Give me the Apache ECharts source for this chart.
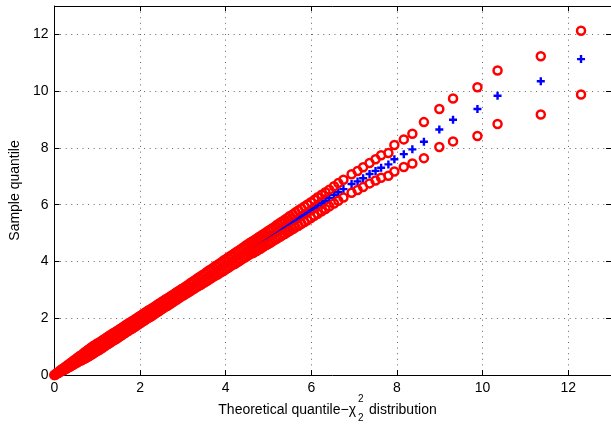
<!DOCTYPE html>
<html>
<head>
<meta charset="utf-8">
<script src="https://cdn.jsdelivr.net/npm/echarts@6/dist/echarts.min.js"></script>
<style>
html,body{margin:0;padding:0;background:#fff;}
#chart{width:611px;height:426px;}
</style>
</head>
<body>
<div id="chart"></div>
<script>
// Theoretical chi-square(2) quantiles (x)
const theoretical = [
0.00,0.03,0.07,0.10,0.14,0.17,0.21,0.24,0.28,0.31,0.35,0.38,0.42,0.45,0.49,0.53,0.56,0.60,0.63,0.67,
0.71,0.74,0.78,0.81,0.85,0.89,0.92,0.96,1.00,1.03,1.07,1.11,1.14,1.18,1.22,1.26,1.29,1.33,1.37,1.41,
1.45,1.49,
1.53,1.57,1.61,1.65,1.69,1.73,1.77,1.81,1.85,1.90,1.94,1.98,2.02,2.07,2.11,2.15,2.20,2.24,2.28,2.33,
2.37,2.42,2.46,2.51,2.55,2.60,2.64,2.69,2.73,2.78,2.83,2.87,2.92,2.97,
3.02,3.07,3.11,3.16,3.21,3.26,3.31,3.36,3.41,3.46,3.51,3.56,3.61,3.66,3.71,3.76,3.81,3.86,3.91,3.96,
4.01,4.06,4.11,4.16,4.21,4.26,4.31,4.36,4.41,4.46,4.51,4.56,4.60,
4.64,4.68,4.72,4.77,4.81,4.86,4.90,4.95,5.00,5.05,5.10,5.16,5.21,5.27,5.32,5.38,5.44,5.50,5.57,5.63,
5.70,5.77,5.84,5.91,5.99,6.07,6.15,6.24,6.33,6.42,6.53,6.63,
6.75,6.94,7.08,7.21,7.36,7.50,7.63,7.80,7.94,8.16,8.36,8.63,8.99,9.31,9.88,10.35,11.36,12.30
];
// Sample quantiles (blue +)
const sample = [
0.00,0.03,0.07,0.10,0.14,0.17,0.20,0.23,0.27,0.30,0.34,0.37,0.41,0.44,0.48,0.52,0.55,0.59,0.61,0.65,
0.69,0.72,0.76,0.79,0.83,0.87,0.90,0.94,0.98,1.00,1.04,1.08,1.11,1.15,1.19,1.23,1.26,1.30,1.34,1.37,
1.41,1.45,
1.49,1.53,1.57,1.61,1.65,1.69,1.73,1.76,1.80,1.85,1.89,1.93,1.97,2.02,2.06,2.10,2.15,2.18,2.22,2.27,
2.31,2.36,2.40,2.45,2.49,2.54,2.57,2.62,2.66,2.71,2.76,2.80,2.85,2.90,
2.94,2.99,3.03,3.08,3.13,3.18,3.23,3.28,3.32,3.37,3.42,3.47,3.52,3.57,3.62,3.67,3.71,3.76,3.81,3.86,
3.91,3.96,4.01,4.06,4.10,4.15,4.20,4.25,4.30,4.35,4.40,4.45,4.49,
4.51,4.55,4.58,4.63,4.67,4.72,4.76,4.80,4.85,4.90,4.95,5.01,5.06,5.11,5.16,5.22,5.28,5.34,5.40,5.46,
5.53,5.60,5.66,5.73,5.81,5.89,5.97,6.05,6.14,6.23,6.34,6.44,
6.55,6.73,6.82,6.93,7.08,7.19,7.30,7.42,7.60,7.78,7.95,8.22,8.65,8.99,9.37,9.84,10.35,11.13
];
// Upper envelope (red o)
const upperBand = [
0.00,0.04,0.08,0.12,0.16,0.20,0.23,0.27,0.31,0.35,0.39,0.43,0.47,0.51,0.55,0.60,0.63,0.68,0.70,0.75,
0.80,0.83,0.88,0.91,0.96,1.00,1.03,1.07,1.11,1.13,1.17,1.21,1.24,1.28,1.32,1.36,1.39,1.43,1.47,1.50,
1.54,1.58,
1.62,1.66,1.70,1.74,1.78,1.82,1.86,1.89,1.93,1.98,2.02,2.06,2.10,2.15,2.19,2.23,2.28,2.31,2.35,2.40,
2.44,2.49,2.53,2.58,2.62,2.67,2.70,2.75,2.79,2.84,2.89,2.93,2.98,3.03,
3.07,3.12,3.16,3.22,3.27,3.32,3.37,3.43,3.47,3.52,3.57,3.63,3.68,3.73,3.78,3.84,3.88,3.93,3.98,4.04,
4.09,4.14,4.19,4.24,4.29,4.34,4.39,4.44,4.49,4.55,4.60,4.65,4.69,
4.72,4.76,4.80,4.85,4.89,4.94,4.98,5.03,5.08,5.13,5.18,5.24,5.30,5.36,5.41,5.47,5.53,5.60,5.66,5.73,
5.80,5.87,5.94,6.01,6.09,6.17,6.26,6.35,6.44,6.53,6.65,6.76,
6.88,7.07,7.19,7.32,7.47,7.60,7.74,7.82,8.10,8.30,8.50,8.91,9.37,9.74,10.14,10.73,11.23,12.13
];
// Lower envelope (red o)
const lowerBand = [
0.00,0.02,0.06,0.08,0.12,0.14,0.17,0.19,0.23,0.25,0.29,0.31,0.35,0.37,0.41,0.44,0.47,0.50,0.52,0.55,
0.58,0.61,0.64,0.67,0.70,0.74,0.77,0.81,0.85,0.87,0.91,0.95,0.98,1.02,1.06,1.10,1.13,1.17,1.21,1.24,
1.28,1.32,
1.36,1.40,1.44,1.48,1.52,1.56,1.60,1.63,1.67,1.72,1.76,1.80,1.84,1.89,1.93,1.97,2.02,2.05,2.09,2.14,
2.18,2.23,2.27,2.32,2.36,2.41,2.44,2.49,2.53,2.58,2.63,2.67,2.72,2.77,
2.81,2.86,2.90,2.94,2.99,3.04,3.09,3.13,3.17,3.22,3.27,3.31,3.36,3.41,3.46,3.50,3.54,3.59,3.64,3.68,
3.73,3.78,3.83,3.88,3.91,3.96,4.01,4.06,4.11,4.15,4.20,4.25,4.29,
4.30,4.34,4.37,4.42,4.45,4.50,4.54,4.58,4.62,4.67,4.72,4.77,4.82,4.87,4.92,4.97,5.03,5.08,5.14,5.20,
5.26,5.33,5.39,5.45,5.53,5.61,5.68,5.77,5.85,5.94,6.04,6.14,
6.25,6.42,6.52,6.62,6.75,6.85,6.95,7.02,7.17,7.33,7.45,7.64,8.03,8.23,8.42,8.84,9.18,9.88
];
const tickValues = [0, 2, 4, 6, 8, 10, 12];
const xTitleLeft = 'Theoretical quantile\u2212\u03c7';
const xTitleSup = '2';
const xTitleSub = '2';
const xTitleRight = 'distribution';
const yTitle = 'Sample quantile';

const pairs = (xs, ys) => xs.map((x, i) => [x, ys[i]]);
const FONT = '"Liberation Sans", Arial, Helvetica, sans-serif';
const chart = echarts.init(document.getElementById('chart'), null, {renderer: 'canvas'});

const labelFmt = v => (tickValues.indexOf(v) >= 0 ? String(v) : '');
const splitStyle = {show: true, lineStyle: {color: '#666', width: 1, type: [1, 4.6]}};
const axisBase = {
  type: 'value', min: 0, max: 13, interval: 2,
  axisLine: {show: true, onZero: false, lineStyle: {color: '#000', width: 1}},
  axisTick: {show: true, inside: true, length: 5, lineStyle: {color: '#000'}},
};

chart.setOption({
  animation: false,
  backgroundColor: '#fff',
  grid: {left: 50, top: 6, width: 565, height: 369, containLabel: false},
  xAxis: [
    Object.assign({}, axisBase, {
      position: 'bottom',
      axisLabel: {formatter: labelFmt, color: '#000', fontSize: 14, fontFamily: FONT, margin: 6, showMaxLabel: false},
      splitLine: splitStyle
    }),
    Object.assign({}, axisBase, {
      position: 'top',
      axisLabel: {show: false},
      splitLine: {show: false}
    })
  ],
  yAxis: [
    Object.assign({}, axisBase, {
      position: 'left',
      name: yTitle, nameLocation: 'middle', nameGap: 28, nameRotate: 90,
      nameTextStyle: {color: '#000', fontSize: 14, fontFamily: FONT},
      axisLabel: {formatter: labelFmt, color: '#000', fontSize: 14, fontFamily: FONT, margin: 6, showMaxLabel: false},
      splitLine: splitStyle
    }),
    Object.assign({}, axisBase, {
      position: 'right',
      axisLabel: {show: false},
      splitLine: {show: false}
    })
  ],
  graphic: [
    {type: 'text', x: 356, y: 410, silent: true,
     style: {text: xTitleLeft, fill: '#000', font: '14px ' + FONT, align: 'right', verticalAlign: 'middle'}},
    {type: 'text', x: 358, y: 399, silent: true,
     style: {text: xTitleSup, fill: '#000', font: '10px ' + FONT, align: 'left', verticalAlign: 'middle'}},
    {type: 'text', x: 358, y: 418, silent: true,
     style: {text: xTitleSub, fill: '#000', font: '10px ' + FONT, align: 'left', verticalAlign: 'middle'}},
    {type: 'text', x: 369, y: 410, silent: true,
     style: {text: xTitleRight, fill: '#000', font: '14px ' + FONT, align: 'left', verticalAlign: 'middle'}}
  ],
  series: [
    {
      type: 'scatter', xAxisIndex: 0, yAxisIndex: 0, silent: true,
      data: pairs(theoretical, sample),
      symbol: 'path://M3.5,0H6.5V3.5H10V6.5H6.5V10H3.5V6.5H0V3.5H3.5Z',
      symbolSize: 8,
      itemStyle: {color: '#0000ff', opacity: 1}
    },
    {
      type: 'scatter', xAxisIndex: 0, yAxisIndex: 0, silent: true,
      data: pairs(theoretical, upperBand),
      symbol: 'circle', symbolSize: 8,
      itemStyle: {color: 'rgba(0,0,0,0)', borderColor: '#ff0000', borderWidth: 2.5, opacity: 1}
    },
    {
      type: 'scatter', xAxisIndex: 0, yAxisIndex: 0, silent: true,
      data: pairs(theoretical, lowerBand),
      symbol: 'circle', symbolSize: 8,
      itemStyle: {color: 'rgba(0,0,0,0)', borderColor: '#ff0000', borderWidth: 2.5, opacity: 1}
    }
  ]
});
</script>
</body>
</html>
